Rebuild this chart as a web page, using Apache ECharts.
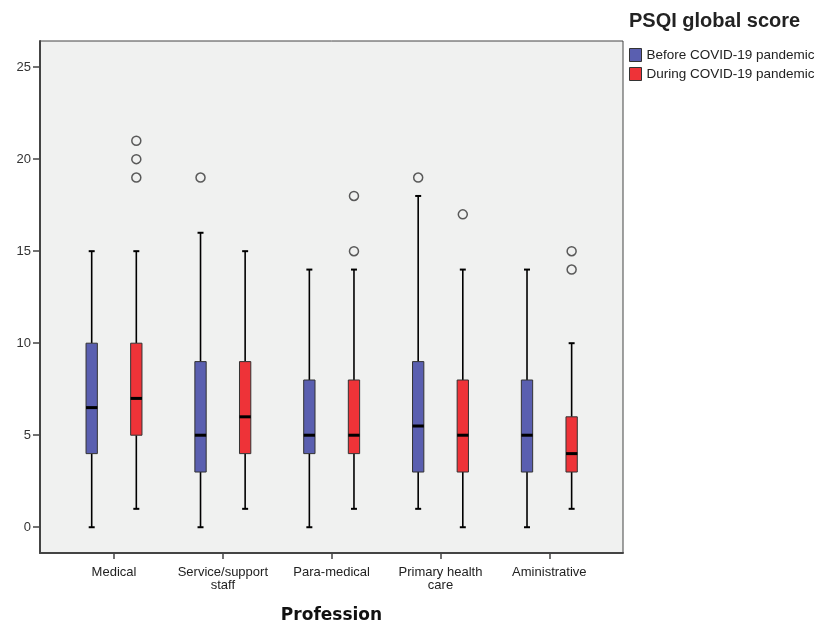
<!DOCTYPE html>
<html>
<head>
<meta charset="utf-8">
<script src="https://cdn.jsdelivr.net/npm/echarts@6/dist/echarts.min.js"></script>
<style>html,body{margin:0;padding:0;background:#fff}#c{width:816px;height:628px}</style>
</head>
<body>
<div id="c"></div>
<script>
// ---- data ----
const categories = ['Medical', 'Service/support\nstaff', 'Para-medical', 'Primary health\ncare', 'Aministrative'];
const seriesNames = ['Before COVID-19 pandemic', 'During COVID-19 pandemic'];
// [min, Q1, median, Q3, max]
const beforeBox = [[0, 4, 6.5, 10, 15], [0, 3, 5, 9, 16], [0, 4, 5, 8, 14], [1, 3, 5.5, 9, 18], [0, 3, 5, 8, 14]];
const duringBox = [[1, 5, 7, 10, 15], [1, 4, 6, 9, 15], [1, 4, 5, 8, 14], [0, 3, 5, 8, 14], [1, 3, 4, 6, 10]];
// [category index, value]
const beforeOutliers = [[1, 19], [3, 19]];
const duringOutliers = [[0, 19], [0, 20], [0, 21], [2, 15], [2, 18], [3, 17], [4, 14], [4, 15]];
const yTicks = [0, 5, 10, 15, 20, 25];

// ---- styling / layout ----
const colors = ['#5a5fb0', '#ee3338'];
const offsets = [-0.205, 0.205];
const BOX_W = 0.104, CAP_W = 0.055;

function boxRender(si) {
  return function (params, api) {
    const x = api.value(0) + offsets[si];
    const pLo = api.coord([x, api.value(1)]);
    const pQ1 = api.coord([x, api.value(2)]);
    const pMed = api.coord([x, api.value(3)]);
    const pQ3 = api.coord([x, api.value(4)]);
    const pHi = api.coord([x, api.value(5)]);
    const bw = api.size([BOX_W, 0])[0];
    const cw = api.size([CAP_W, 0])[0];
    const lineSt = { stroke: '#000', lineWidth: 1.6 };
    return {
      type: 'group',
      children: [
        { type: 'line', shape: { x1: pLo[0], y1: pLo[1], x2: pQ1[0], y2: pQ1[1] }, style: lineSt },
        { type: 'line', shape: { x1: pQ3[0], y1: pQ3[1], x2: pHi[0], y2: pHi[1] }, style: lineSt },
        { type: 'line', shape: { x1: pLo[0] - cw / 2, y1: pLo[1], x2: pLo[0] + cw / 2, y2: pLo[1] }, style: { stroke: '#000', lineWidth: 2 } },
        { type: 'line', shape: { x1: pHi[0] - cw / 2, y1: pHi[1], x2: pHi[0] + cw / 2, y2: pHi[1] }, style: { stroke: '#000', lineWidth: 2 } },
        { type: 'rect', shape: { x: pQ3[0] - bw / 2, y: pQ3[1], width: bw, height: pQ1[1] - pQ3[1] },
          style: { fill: colors[si], stroke: '#333', lineWidth: 1 } },
        { type: 'line', shape: { x1: pMed[0] - bw / 2, y1: pMed[1], x2: pMed[0] + bw / 2, y2: pMed[1] }, style: { stroke: '#000', lineWidth: 3 } }
      ]
    };
  };
}

const boxData = [beforeBox, duringBox].map(arr => arr.map((d, i) => [i].concat(d)));
const outData = [beforeOutliers, duringOutliers].map((arr, si) => arr.map(d => [d[0] + offsets[si], d[1]]));

const chart = echarts.init(document.getElementById('c'), null, { renderer: 'canvas' });
chart.setOption({
  animation: false,
  backgroundColor: '#fff',
  title: {
    text: 'PSQI global score', left: 624, top: 6,
    textStyle: { fontFamily: 'Liberation Sans', fontSize: 20, fontWeight: 'bold', color: '#222' }
  },
  legend: {
    orient: 'vertical', left: 624, top: 43, itemWidth: 12, itemHeight: 13, itemGap: 5,
    data: seriesNames.map((n, i) => ({ name: n, icon: 'rect', itemStyle: { color: colors[i], borderColor: '#333', borderWidth: 1 } })),
    textStyle: { fontFamily: 'Liberation Sans', fontSize: 13.5, color: '#222' },
    selectedMode: false
  },
  grid: {
    left: 40, top: 41, width: 583, height: 512, show: true, containLabel: false, outerBoundsMode: 'none',
    backgroundColor: '#f0f1f0', borderColor: '#444', borderWidth: 1
  },
  xAxis: {
    type: 'value', min: -0.68, max: 4.677,
    splitLine: { show: false },
    axisLine: { show: true, onZero: false, lineStyle: { color: '#444', width: 2 } },
    axisTick: { show: true, length: 6, customValues: [0, 1, 2, 3, 4], lineStyle: { color: '#444', width: 1.5 } },
    axisLabel: {
      customValues: [0, 1, 2, 3, 4], formatter: v => categories[Math.round(v)],
      fontFamily: 'Liberation Sans', fontSize: 13, color: '#222', lineHeight: 13, margin: 13
    },
    name: 'Profession', nameLocation: 'middle', nameGap: 54,
    nameTextStyle: { fontFamily: 'DejaVu Sans', fontSize: 17, fontWeight: 'bold', color: '#111' }
  },
  yAxis: {
    type: 'value', min: -1.4, max: 26.42,
    splitLine: { show: false },
    axisLine: { show: true, onZero: false, lineStyle: { color: '#444', width: 2 } },
    axisTick: { show: true, length: 7, customValues: yTicks, lineStyle: { color: '#444', width: 1.5 } },
    axisLabel: { customValues: yTicks, fontFamily: 'Liberation Sans', fontSize: 13, color: '#333', margin: 9 }
  },
  series: [0, 1].map(si => ({
    type: 'custom', name: seriesNames[si], renderItem: boxRender(si),
    itemStyle: { color: colors[si] },
    encode: { x: 0, y: [1, 2, 3, 4, 5] },
    data: boxData[si], z: 2
  })).concat([0, 1].map(si => ({
    type: 'scatter', name: seriesNames[si], data: outData[si], symbol: 'circle', symbolSize: 9,
    itemStyle: { color: 'rgba(0,0,0,0)', borderColor: '#333', borderWidth: 1.5 }, z: 3
  })))
});
</script>
</body>
</html>
